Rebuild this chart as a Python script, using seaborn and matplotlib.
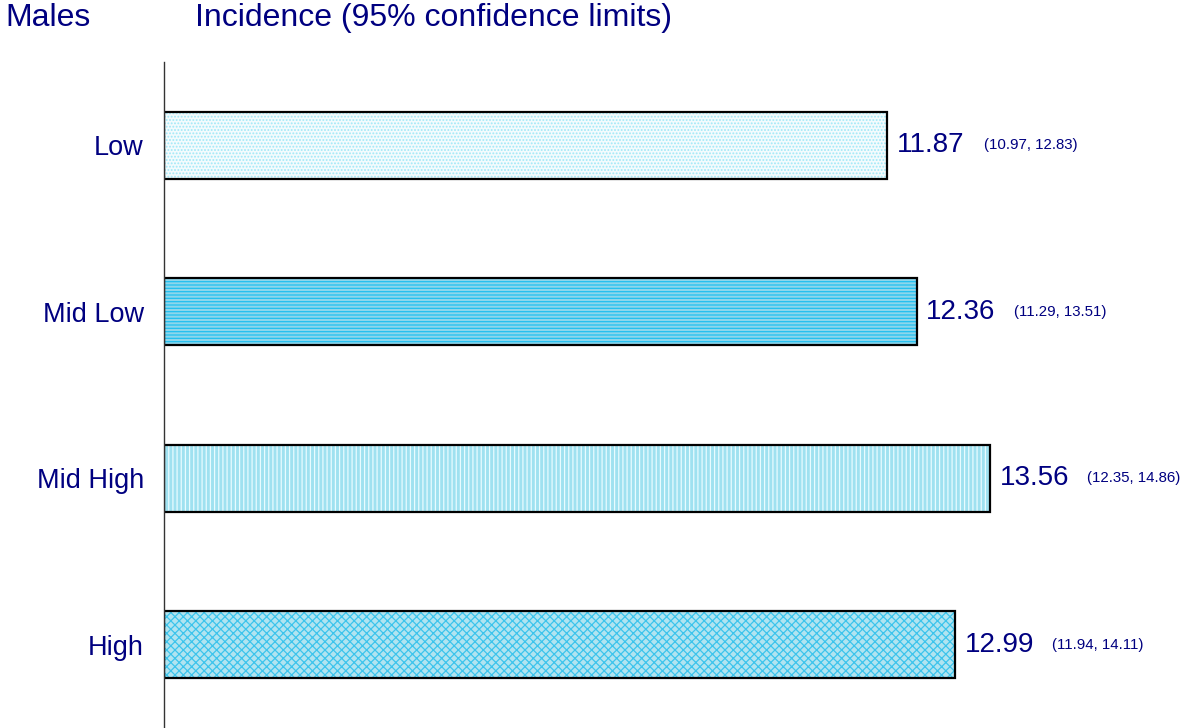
"""
Incidence by group (males), horizontal hatched bars with CI labels
"""
import matplotlib
matplotlib.use("Agg")
import matplotlib.pyplot as plt
import pandas as pd
import seaborn as sns

# data
groups = ["Low", "Mid Low", "Mid High", "High"]
incidence = [11.87, 12.36, 13.56, 12.99]
ci_low = [10.97, 11.29, 12.35, 11.94]
ci_high = [12.83, 13.51, 14.86, 14.11]

# fill / hatch styling per bar
fills = ["#f2fcfe", "#7fdffa", "#92e9fd", "#a6ebfb"]
hatch_cols = ["#9fe8f8", "#22c0f0", "#e8fbff", "#3cc4ec"]
hatches = ["." * 5, "-" * 5, "|" * 4, "x" * 4]

NAVY = "#000080"

sns.set_style("white")
plt.rcParams["font.family"] = ["Liberation Sans", "DejaVu Sans"]
plt.rcParams["hatch.linewidth"] = 0.9

df = pd.DataFrame({"group": groups, "incidence": incidence})

fig = plt.figure(figsize=(11.87, 7.28), dpi=100)
ax = fig.add_axes([164 / 1187, 0.0, 1 - 164 / 1187, 1 - 62 / 728])

# hatched fill
sns.barplot(data=df, x="incidence", y="group", order=groups, orient="h",
            width=0.4, ax=ax, palette=fills, hue="group", legend=False,
            linewidth=0)
for patch, hc, h in zip(ax.patches, hatch_cols, hatches):
    patch.set_hatch(h)
    patch.set_edgecolor(hc)
    patch.set_linewidth(0)

# black outlines
sns.barplot(data=df, x="incidence", y="group", order=groups, orient="h",
            width=0.4, ax=ax, fill=False, edgecolor="black", linewidth=1.6)

ax.set_xlim(0, 16.8)
ax.set_ylim(3.5, -0.5)
ax.set_xlabel("")
ax.set_ylabel("")
ax.set_xticks([])

for sp in ["top", "right", "bottom"]:
    ax.spines[sp].set_visible(False)
ax.spines["left"].set_color("#333333")
ax.spines["left"].set_linewidth(1.0)

ax.set_yticks(range(len(groups)))
ax.set_yticklabels(groups, fontsize=19.5, color=NAVY)
ax.tick_params(axis="y", which="major", length=0, pad=14.5)
ax.set_yticks([i - 0.5 for i in range(len(groups) + 1)], minor=True)
ax.tick_params(axis="y", which="minor", length=7, width=1.0,
               color="#333333", direction="out")

for i, (v, lo, hi) in enumerate(zip(incidence, ci_low, ci_high)):
    ax.annotate(f"{v:.2f}", xy=(v, i), xytext=(7, 0), textcoords="offset points",
                ha="left", va="center", fontsize=20, color=NAVY)
    ax.annotate(f"({lo:.2f}, {hi:.2f})", xy=(v, i), xytext=(70, 0),
                textcoords="offset points", ha="left", va="center",
                fontsize=10.8, color=NAVY)

fig.text(5 / 1187, 1 - 3 / 728, "Males", ha="left", va="top",
         fontsize=23, color=NAVY)
fig.text(195 / 1187, 1 - 3 / 728, "Incidence (95% confidence limits)",
         ha="left", va="top", fontsize=23, color=NAVY)

fig.savefig("out.png", dpi=100)
